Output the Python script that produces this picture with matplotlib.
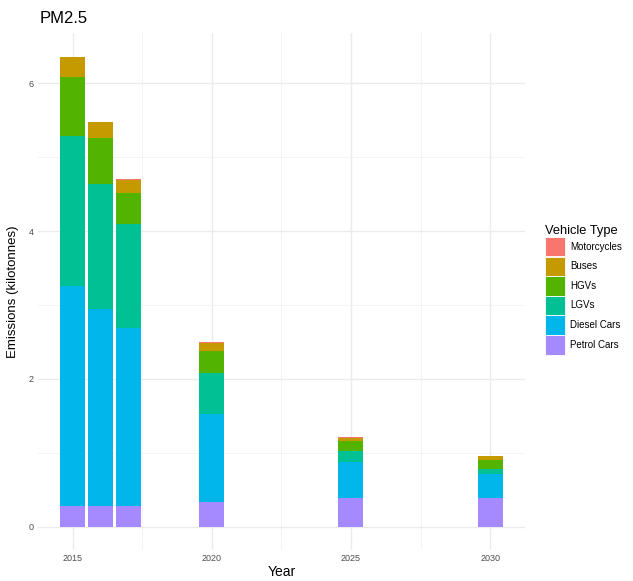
import matplotlib.pyplot as plt
from matplotlib.patches import Patch
from matplotlib.ticker import MultipleLocator

plt.rcParams['font.family'] = ['Liberation Sans', 'DejaVu Sans']

years = [2015, 2016, 2017, 2020, 2025, 2030]

# emissions by vehicle type (kilotonnes), stacked bottom -> top
petrol = [0.28, 0.28, 0.28, 0.34, 0.39, 0.39]
diesel = [2.98, 2.67, 2.41, 1.19, 0.48, 0.32]
lgvs = [2.02, 1.69, 1.40, 0.55, 0.16, 0.07]
hgvs = [0.80, 0.62, 0.42, 0.30, 0.13, 0.12]
buses = [0.27, 0.21, 0.18, 0.11, 0.04, 0.05]
motorcycles = [0.01, 0.01, 0.01, 0.01, 0.01, 0.01]

labels = ['Motorcycles', 'Buses', 'HGVs', 'LGVs', 'Diesel Cars', 'Petrol Cars']
colors = ['#F8766D', '#C49A00', '#53B400', '#00C094', '#00B6EB', '#A58AFF']

fig = plt.figure(figsize=(6.33, 5.81), dpi=100)
ax = fig.add_axes([0.060, 0.053, 0.769, 0.890])

stack = [petrol, diesel, lgvs, hgvs, buses, motorcycles]
stack_cols = colors[::-1]
bottom = [0] * len(years)
for vals, c in zip(stack, stack_cols):
    ax.bar(years, vals, width=0.9, bottom=bottom, color=c, zorder=3)
    bottom = [b + v for b, v in zip(bottom, vals)]

top = max(bottom)
ax.set_xlim(2014.55 - 0.05 * 15.9, 2030.45 + 0.05 * 15.9)
ax.set_ylim(-0.05 * top, top * 1.05)

ax.set_xticks([2015, 2020, 2025, 2030])
ax.xaxis.set_minor_locator(MultipleLocator(2.5))
ax.set_yticks([0, 2, 4, 6])
ax.yaxis.set_minor_locator(MultipleLocator(1))

ax.grid(which='major', color='#EBEBEB', lw=1.0, zorder=0)
ax.grid(which='minor', color='#F2F2F2', lw=0.6, zorder=0)
for s in ax.spines.values():
    s.set_visible(False)
ax.tick_params(which='both', length=0, labelsize=6.5, labelcolor='#4D4D4D', pad=3)

ax.set_xlabel('Year', fontsize=10, labelpad=1)
ax.set_ylabel('Emissions (kilotonnes)', fontsize=9.5, labelpad=7)
ax.set_title('PM2.5', fontsize=12, loc='left', x=0.003, pad=7)

handles = [Patch(facecolor=c, edgecolor='white', lw=0.6) for c in colors]
fig.legend(handles, labels, title='Vehicle Type', loc='upper left',
           bbox_to_anchor=(0.855, 0.620), frameon=False, fontsize=7.0,
           title_fontsize=9.3, handlelength=2.0, handleheight=2.7,
           labelspacing=0.02, handletextpad=0.55, alignment='left',
           borderaxespad=0)

plt.savefig('out.png', dpi=100)
